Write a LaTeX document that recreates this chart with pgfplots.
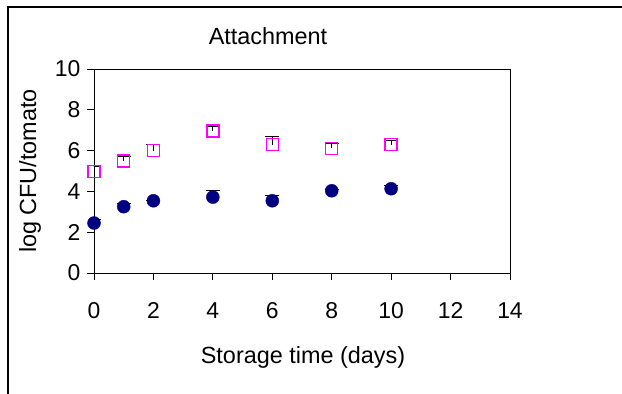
\documentclass[border=0pt]{standalone}
\usepackage{pgfplots}
\pgfplotsset{compat=1.18}
\usepackage{fontspec}
\setmainfont{Liberation Sans}
\definecolor{navy}{HTML}{000080}
\definecolor{pinkm}{HTML}{FF00FF}
\begin{document}
\begin{tikzpicture}
\useasboundingbox (-94bp,-121bp) rectangle (528bp,273bp);
\draw[line width=1.3bp] (-86bp,-125bp) -- (-86bp,266bp) -- (530bp,266bp);
\begin{axis}[
  at={(0,0)}, anchor=south west,
  scale only axis, width=416bp, height=204bp,
  xmin=0, xmax=14, ymin=0, ymax=10,
  xtick={0,2,...,14}, ytick={0,2,...,10},
  tick align=outside, xtick pos=bottom, ytick pos=left,
  major tick length=7bp,
  tick style={black, line width=0.8bp},
  axis line style={black, line width=0.8bp},
  font=\fontsize{23}{26}\selectfont,
  /pgf/number format/assume math mode=true,
  xticklabel style={yshift=-19bp},
  yticklabel style={xshift=-3bp},
  error bars/y dir=plus, error bars/y explicit,
  error bars/error bar style={black, line width=0.8bp},
  error bars/error mark options={black, rotate=90, mark size=7bp, line width=0.8bp},
]
\addplot[only marks, mark=square, mark size=6bp, mark options={pinkm, line width=1.5bp}]
  coordinates {
  (0,4.98) +- (0,0.25)
  (1,5.49) +- (0,0.23)
  (2,6.00) +- (0,0.29)
  (4,6.97) +- (0,0.22)
  (6,6.29) +- (0,0.41)
  (8,6.11) +- (0,0.26)
  (10,6.29) +- (0,0.20)
  };
\addplot[only marks, mark=*, mark size=6.5bp, mark options={navy, fill=navy}]
  coordinates {
  (0,2.45) +- (0,0.20)
  (1,3.25) +- (0,0.18)
  (2,3.54) +- (0,0.03)
  (4,3.72) +- (0,0.31)
  (6,3.54) +- (0,0.28)
  (8,4.03) +- (0,0.09)
  (10,4.13) +- (0,0.18)
  };
\end{axis}
\node[font=\fontsize{23.5}{26}\selectfont] at (174bp,237bp) {Attachment};
\node[font=\fontsize{23.5}{26}\selectfont] at (209bp,-84bp) {Storage time (days)};
\node[font=\fontsize{23.5}{26}\selectfont, rotate=90] at (-64bp,102bp) {log CFU/tomato};
\end{tikzpicture}
\end{document}
